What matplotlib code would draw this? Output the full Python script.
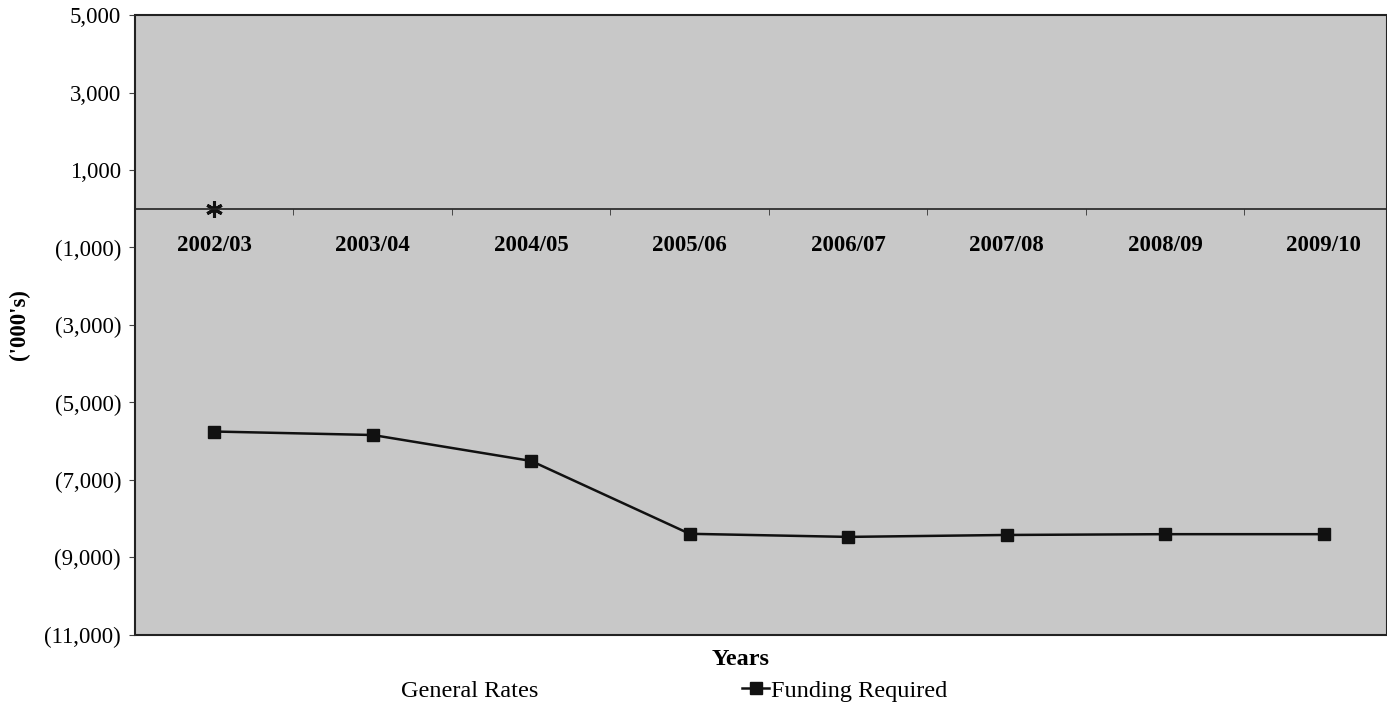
import numpy as np
import matplotlib.pyplot as plt
from matplotlib.ticker import FuncFormatter, FixedLocator

plt.rcParams['font.family'] = ['Liberation Serif', 'DejaVu Serif']

years = ['2002/03', '2003/04', '2004/05', '2005/06', '2006/07', '2007/08', '2008/09', '2009/10']
funding_required = [-5750, -5840, -6510, -8390, -8470, -8420, -8400, -8400]
general_rates = [0]
y_ticks = [5000, 3000, 1000, -1000, -3000, -5000, -7000, -9000, -11000]


def fmt_thousands(v, pos):
    if v < 0:
        return '({:,.0f})'.format(-v)
    return '{:,.0f}'.format(v)


fig = plt.figure(figsize=(13.87, 7.15), dpi=100)
ax = fig.add_axes([0.0973, 0.112, 0.9027, 0.867])
ax.set_facecolor('#c8c8c8')
ax.patch.set_edgecolor('#222222')
ax.patch.set_linewidth(1.5)

x = np.arange(len(years))
ax.plot(x, funding_required, color='#111111', lw=1.8, marker='s', markersize=9,
        label='Funding Required')
ax.plot(x[:len(general_rates)], general_rates, linestyle='none', marker=(6, 2, 0),
        markersize=12, markeredgewidth=2.2, color='#111111', label='General Rates')

ax.set_ylim(-11000, 5000)
ax.set_xlim(-0.5, 7.4)
ax.yaxis.set_major_locator(FixedLocator(y_ticks))
ax.yaxis.set_major_formatter(FuncFormatter(fmt_thousands))
ax.tick_params(axis='y', labelsize=16.5, length=4, color='#444444', pad=6)

# category axis sits on the zero line
ax.spines['bottom'].set_position(('data', 0))
ax.spines['bottom'].set_color('#222222')
ax.spines['bottom'].set_linewidth(1.2)
for s in ['top', 'right']:
    ax.spines[s].set_visible(False)
ax.spines['left'].set_color('#222222')
ax.spines['left'].set_linewidth(1.2)

ax.set_xticks(x)
ax.set_xticklabels(years, fontweight='bold', fontsize=16.5)
ax.set_xticks(x[:-1] + 0.5, minor=True)
ax.tick_params(axis='x', which='major', length=0, pad=19)
ax.tick_params(axis='x', which='minor', length=4, color='#333333')

ax.set_ylabel("('000's)", fontweight='bold', fontsize=16.5, labelpad=10)
fig.text(0.534, 0.078, 'Years', ha='center', va='center', fontweight='bold', fontsize=17.5)

h, l = ax.get_legend_handles_labels()
gr = plt.Line2D([], [], linestyle='none', marker='none')
fig.legend([gr, h[0]], ['General Rates', 'Funding Required'], ncol=2,
           loc='center', bbox_to_anchor=(0.4755, 0.034), frameon=False,
           fontsize=17.5, handlelength=1.1, handletextpad=0.1, columnspacing=8.4)

fig.savefig('out.png', dpi=100)
